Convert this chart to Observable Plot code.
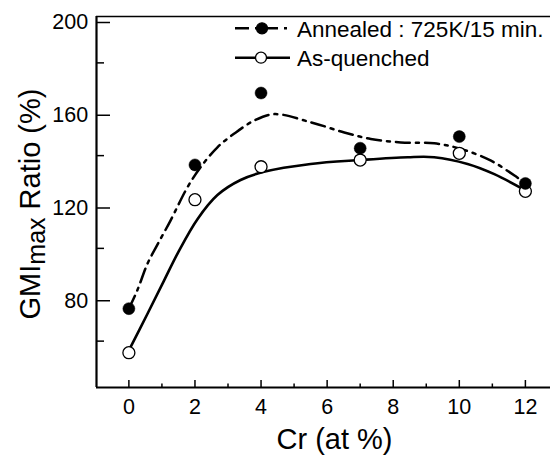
<!DOCTYPE html>
<html><head><meta charset="utf-8">
<script src="https://cdn.jsdelivr.net/npm/d3@7"></script>
<script src="https://cdn.jsdelivr.net/npm/@observablehq/plot@0.6"></script>
<style>
html,body{margin:0;padding:0;background:#fff;}
#chart{position:relative;width:550px;height:455px;font-family:"Liberation Sans",Arial,Helvetica,sans-serif;}
#chart svg{font-family:"Liberation Sans",Arial,Helvetica,sans-serif;}
</style></head><body><div id="chart"></div>
<script>
// Measured data points
const crValues = [0, 2, 4, 7, 10, 12];
const annealedValues = [74, 136, 167, 143.2, 148.2, 128];
const quenchedValues = [55, 121, 135.2, 138.1, 141, 124.6];
// Smooth fitted curves
const annealedFitX = [0, 0.25, 0.56, 0.86, 1.26, 1.77, 2.17, 2.68, 3.18, 3.79, 4.4, 5.5, 6.52, 7.32, 8.23, 9.24, 10.05, 10.96, 11.67, 12];
const annealedFitY = [74, 81.7, 93.3, 101.5, 112, 126.3, 135, 143.6, 149.4, 155.1, 157.9, 154.4, 150, 147.2, 145.7, 145.3, 142.9, 137.8, 131.4, 128];
const quenchedFitX = [0, 0.56, 1.06, 1.5, 2.07, 2.68, 3.38, 4.09, 5.5, 7.02, 8.44, 9.24, 10.25, 11.06, 12];
const quenchedFitY = [56, 71.7, 86, 98.5, 112.5, 123, 129.5, 133, 136.4, 138.1, 139.3, 139.3, 136.4, 132, 125];
// Axes
const xMajorTicks = [0, 2, 4, 6, 8, 10, 12];
const xMinorTicks = [1, 3, 5, 7, 9, 11];
const yMajorTicks = [80, 120, 160, 200];
const yMinorTicks = [60, 100, 140, 180];
const xDomain = [-0.98, 12.76];
const yDomain = [40, 200];
const seriesNames = ["Annealed : 725K/15 min.", "As-quenched"];
const xLabel = "Cr (at %)";
const yLabelMain = "GMI", yLabelSub = "max", yLabelRest = " Ratio (%)";

const annealedPts = crValues.map((x, i) => ({x, y: annealedValues[i]}));
const quenchedPts = crValues.map((x, i) => ({x, y: quenchedValues[i]}));
const annealedFit = annealedFitX.map((x, i) => ({x, y: annealedFitY[i]}));
const quenchedFit = quenchedFitX.map((x, i) => ({x, y: quenchedFitY[i]}));
const yLabelFull = yLabelMain + yLabelSub + yLabelRest;
const dashDot = "14,6,3,6";

const svg = Plot.plot({
  width: 550, height: 455,
  marginLeft: 96, marginRight: 0, marginTop: 16, marginBottom: 68,
  style: {fontFamily: '"Liberation Sans",Arial,Helvetica,sans-serif', color: "#000", background: "#fff"},
  x: {domain: xDomain},
  y: {domain: yDomain},
  marks: [
    Plot.ruleY([yDomain[1]], {strokeWidth: 1.3}),
    Plot.axisX(xMajorTicks, {tickSize: -7, tickPadding: 18, fontSize: 21.5, strokeWidth: 1.5, label: null}),
    Plot.axisX(xMinorTicks, {tickSize: -3.5, tickFormat: () => "", strokeWidth: 1.5, label: null}),
    Plot.axisY(yMajorTicks, {tickSize: -14, tickPadding: 22.4, dy: 6, fontSize: 21.5, strokeWidth: 1.5, label: null}),
    Plot.axisY(yMinorTicks, {tickSize: -8, tickFormat: () => "", strokeWidth: 1.5, label: null}),
    Plot.ruleX([xDomain[0]], {strokeWidth: 2.2}),
    Plot.ruleY([yDomain[0]], {strokeWidth: 2.2}),
    Plot.line(annealedFit, {x: "x", y: "y", curve: "catmull-rom", stroke: "#000", strokeWidth: 2.5, strokeDasharray: dashDot}),
    Plot.line(quenchedFit, {x: "x", y: "y", curve: "catmull-rom", stroke: "#000", strokeWidth: 2.6}),
    Plot.dot(quenchedPts, {x: "x", y: "y", r: 6, fill: "#fff", stroke: "#000", strokeWidth: 1.3}),
    Plot.dot(annealedPts, {x: "x", y: "y", r: 6, fill: "#000", stroke: "#000", strokeWidth: 0.5}),
    Plot.text([xLabel], {frameAnchor: "bottom", dx: 11, dy: 61, lineAnchor: "bottom", fontSize: 29}),
    Plot.text([yLabelFull], {frameAnchor: "left", textAnchor: "middle", dx: -57, dy: 2, rotate: -90, lineAnchor: "bottom", fontSize: 29})
  ]
});

// subscript in y label
d3.select(svg).selectAll("text").filter(function() { return this.textContent === yLabelFull; })
  .each(function() {
    const t = d3.select(this);
    t.attr("text-anchor", "middle");
    t.text(null);
    t.append("tspan").text(yLabelMain);
    t.append("tspan").attr("dy", 5).attr("font-size", 25).text(yLabelSub);
    t.append("tspan").attr("dy", -5).text(yLabelRest);
  });

// legend (annotation)
const lg = d3.select(svg).append("g").attr("font-size", 22.5).attr("fill", "#000").attr("text-anchor", "start");
const rows = [
  {cy: 28.3, x1: 235, x2: 293, mx: 262, dash: dashDot, fill: "#000", base: 36.7},
  {cy: 57.7, x1: 235, x2: 290, mx: 261, dash: null, fill: "#fff", base: 66}
];
rows.forEach((r, i) => {
  lg.append("line").attr("x1", r.x1).attr("x2", r.x2).attr("y1", r.cy).attr("y2", r.cy)
    .attr("stroke", "#000").attr("stroke-width", 2.5).attr("stroke-dasharray", r.dash);
  lg.append("circle").attr("cx", r.mx).attr("cy", r.cy).attr("r", 5.5)
    .attr("fill", r.fill).attr("stroke", "#000").attr("stroke-width", 1.3);
  lg.append("text").attr("x", 297).attr("y", r.base).attr("text-anchor", "start").text(seriesNames[i]);
});

document.getElementById("chart").appendChild(svg);
</script></body></html>
